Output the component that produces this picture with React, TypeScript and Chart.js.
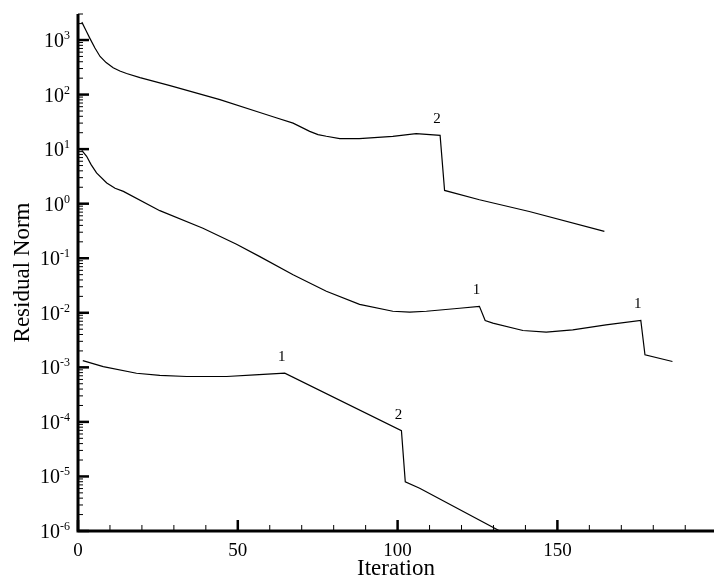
import { useEffect, useRef } from "react";
import { Chart, registerables } from "chart.js";

Chart.register(...registerables);

const FONT = '"Liberation Serif", "Times New Roman", serif';

// Upper history
const iterTop = [1.2, 2.5, 3.8, 5.3, 6.9, 8.8, 11, 13.1, 15.2, 19.4, 28.8, 44.4, 56.9, 62, 67.3, 72.5, 75.1, 77.7, 81.9, 88, 98.5, 105.8, 113.3, 114.7, 125.6, 141.2, 164.7];
const residualTop = [2130, 1490, 1050, 713, 500, 386, 310, 270, 243, 205, 146, 81, 47, 37.6, 30, 21.2, 18.5, 17.2, 15.6, 15.6, 17.2, 19.2, 17.9, 1.75, 1.18, 0.72, 0.31];

// Middle history
const iterMid = [1.2, 2.7, 4.1, 5.8, 9.0, 11.6, 14.2, 25.6, 39.1, 49.6, 56.9, 67.3, 77.7, 88.1, 98.5, 103.8, 109, 119.4, 125.6, 127.4, 129.8, 139.2, 146.5, 154.8, 165.2, 176.1, 177.4, 186];
const residualMid = [9.5, 7.38, 5.2, 3.66, 2.4, 1.92, 1.68, 0.745, 0.355, 0.181, 0.107, 0.0498, 0.0248, 0.0143, 0.01067, 0.0103, 0.01067, 0.0121, 0.0131, 0.00723, 0.00647, 0.00473, 0.00441, 0.00488, 0.006, 0.00723, 0.0017, 0.00128];

// Lower history
const iterLow = [1.5, 7.9, 18.3, 25.6, 34, 46.5, 55.3, 64.7, 101.2, 102.4, 106.9, 132];
const residualLow = [0.00133, 0.00103, 0.00078, 0.000713, 0.00068, 0.00068, 0.000728, 0.00078, 6.9e-5, 8.0e-6, 6.07e-6, 1e-6];

// Restart markers
const markText = ["2", "1", "1", "1", "2"];
const markIter = [113.3, 125.6, 176.1, 64.7, 101.2];
const markResidual = [17.9, 0.0131, 0.00723, 0.00078, 6.9e-5];

// Axis ticks
const xMajorTicks = [0, 50, 100, 150];
const xMinorStep = 10;
const yDecades = [-6, -5, -4, -3, -2, -1, 0, 1, 2, 3];

const X_MIN = 0;
const X_MAX = 199;
const Y_MIN = 1e-6;
const Y_MAX = 3000;

const toPoints = (xs: number[], ys: number[]) => xs.map((x, i) => ({ x, y: ys[i] }));

const framePlugin = {
  id: "frameAxes",
  afterDatasetsDraw(chart: any) {
    const { ctx, chartArea, scales } = chart;
    const { left, right, top, bottom } = chartArea;
    const xs = scales.x;
    const ys = scales.y;
    ctx.save();
    ctx.strokeStyle = "#000";
    ctx.fillStyle = "#000";

    // x ticks
    for (let v = X_MIN; v <= X_MAX; v += xMinorStep) {
      const px = xs.getPixelForValue(v);
      const major = xMajorTicks.includes(v);
      ctx.lineWidth = major ? 2.5 : 1;
      ctx.beginPath();
      ctx.moveTo(px, bottom);
      ctx.lineTo(px, bottom - (major ? 11 : 6));
      ctx.stroke();
    }

    // y ticks
    yDecades.forEach((d) => {
      const base = Math.pow(10, d);
      const py = ys.getPixelForValue(base);
      ctx.lineWidth = 2.5;
      ctx.beginPath();
      ctx.moveTo(left, py);
      ctx.lineTo(left + 11, py);
      ctx.stroke();
      for (let k = 2; k <= 9; k++) {
        const v = k * base;
        if (v > Y_MAX) break;
        const pm = ys.getPixelForValue(v);
        ctx.lineWidth = 1;
        ctx.beginPath();
        ctx.moveTo(left, pm);
        ctx.lineTo(left + 5, pm);
        ctx.stroke();
      }
    });

    // axis lines
    ctx.lineWidth = 3;
    ctx.beginPath();
    ctx.moveTo(left, top);
    ctx.lineTo(left, bottom);
    ctx.lineTo(right, bottom);
    ctx.stroke();

    // x tick labels
    ctx.font = `19px ${FONT}`;
    ctx.textAlign = "center";
    ctx.textBaseline = "alphabetic";
    xMajorTicks.forEach((v) => {
      ctx.fillText(String(v), xs.getPixelForValue(v), bottom + 25);
    });

    // y tick labels: 10 with superscript exponent
    const rightEdge = left - 8;
    yDecades.forEach((d) => {
      const py = ys.getPixelForValue(Math.pow(10, d));
      const exp = String(d);
      ctx.font = `12px ${FONT}`;
      const wExp = ctx.measureText(exp).width;
      ctx.font = `20px ${FONT}`;
      const wBase = ctx.measureText("10").width;
      ctx.textAlign = "left";
      ctx.fillText("10", rightEdge - wExp - wBase, py + 7);
      ctx.font = `12px ${FONT}`;
      ctx.fillText(exp, rightEdge - wExp, py - 1);
    });

    // marker labels
    ctx.font = `15px ${FONT}`;
    ctx.textAlign = "center";
    markText.forEach((t, i) => {
      const px = xs.getPixelForValue(markIter[i]);
      const py = ys.getPixelForValue(markResidual[i]);
      ctx.fillText(t, px - 3, py - 12);
    });

    // axis titles
    ctx.font = `23px ${FONT}`;
    ctx.textAlign = "center";
    ctx.textBaseline = "alphabetic";
    ctx.fillText("Iteration", (left + right) / 2, 575);

    ctx.save();
    ctx.translate(29, (top + bottom) / 2);
    ctx.rotate(-Math.PI / 2);
    ctx.fillText("Residual Norm", 0, 0);
    ctx.restore();

    ctx.restore();
  },
};

export default function App() {
  const canvasRef = useRef<HTMLCanvasElement | null>(null);

  useEffect(() => {
    if (!canvasRef.current) return;
    const line = {
      borderColor: "#000",
      borderWidth: 1.2,
      pointRadius: 0,
      tension: 0,
      fill: false,
    };
    const chart = new Chart(canvasRef.current, {
      type: "line",
      data: {
        datasets: [
          { ...line, data: toPoints(iterTop, residualTop) },
          { ...line, data: toPoints(iterMid, residualMid) },
          { ...line, data: toPoints(iterLow, residualLow) },
        ],
      },
      options: {
        animation: false,
        responsive: false,
        devicePixelRatio: 1,
        layout: { padding: { left: 78, right: 0, top: 14, bottom: 51 } },
        plugins: { legend: { display: false }, tooltip: { enabled: false } },
        scales: {
          x: { type: "linear", min: X_MIN, max: X_MAX, display: false },
          y: { type: "logarithmic", min: Y_MIN, max: Y_MAX, display: false },
        },
      },
      plugins: [framePlugin],
    } as any);
    return () => chart.destroy();
  }, []);

  return (
    <div style={{ position: "fixed", left: 0, top: 0, width: 714, height: 582, background: "#fff" }}>
      <canvas ref={canvasRef} width={714} height={582} />
    </div>
  );
}
